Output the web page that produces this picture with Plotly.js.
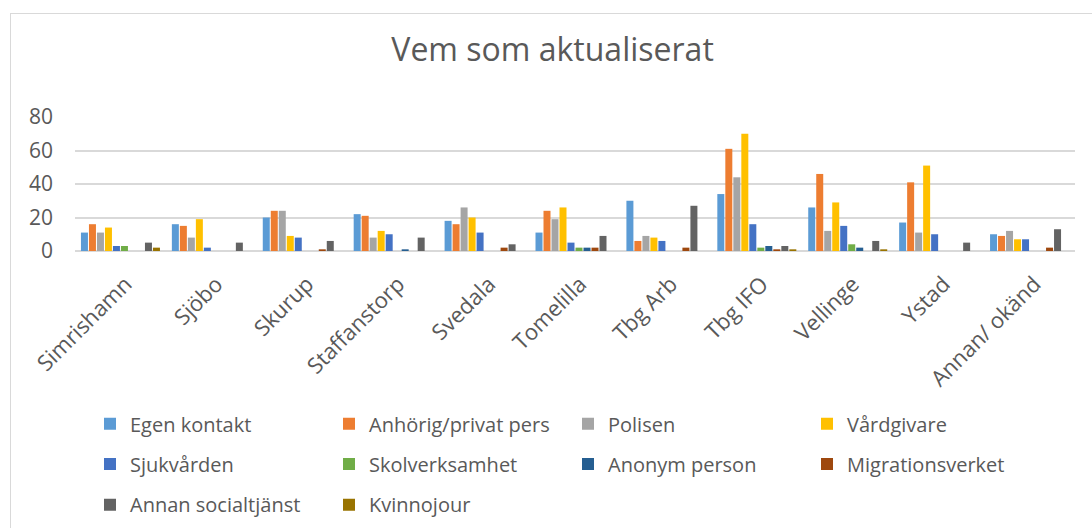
<!DOCTYPE html>
<html>
<head>
<meta charset="utf-8">
<script src="https://cdn.plot.ly/plotly-3.0.1.min.js"></script>
<style>
  html, body { margin: 0; padding: 0; background: #fff; overflow: hidden; }
  #chart { width: 1092px; height: 528px; position: absolute; left: 0; top: 0; }
  #frame { position: absolute; left: 10px; top: 13px; width: 1200px; height: 700px;
           border: 1.5px solid #d9d9d9; pointer-events: none; }
</style>
</head>
<body>
<div id="chart"></div>
<div id="frame"></div>
<script>
const categories = ["Simrishamn", "Sjöbo", "Skurup", "Staffanstorp", "Svedala", "Tomelilla",
                    "Tbg Arb", "Tbg IFO", "Vellinge", "Ystad", "Annan/ okänd"];

const egenKontakt       = [11, 16, 20, 22, 18, 11, 30, 34, 26, 17, 10];
const anhorigPrivatPers = [16, 15, 24, 21, 16, 24, 6, 61, 46, 41, 9];
const polisen           = [11, 8, 24, 8, 26, 19, 9, 44, 12, 11, 12];
const vardgivare        = [14, 19, 9, 12, 20, 26, 8, 70, 29, 51, 7];
const sjukvarden        = [3, 2, 8, 10, 11, 5, 6, 16, 15, 10, 7];
const skolverksamhet    = [3, 0, 0, 0, 0, 2, 0, 2, 4, 0, 0];
const anonymPerson      = [0, 0, 0, 1, 0, 2, 0, 3, 2, 0, 0];
const migrationsverket  = [0, 0, 1, 0, 2, 2, 2, 1, 0, 0, 2];
const annanSocialtjanst = [5, 5, 6, 8, 4, 9, 27, 3, 6, 5, 13];
const kvinnojour        = [2, 0, 0, 0, 0, 0, 0, 1, 1, 0, 0];

const seriesNames = ["Egen kontakt", "Anhörig/privat pers", "Polisen", "Vårdgivare",
                     "Sjukvården", "Skolverksamhet", "Anonym person", "Migrationsverket",
                     "Annan socialtjänst", "Kvinnojour"];
const seriesValues = [egenKontakt, anhorigPrivatPers, polisen, vardgivare, sjukvarden,
                      skolverksamhet, anonymPerson, migrationsverket, annanSocialtjanst, kvinnojour];
const seriesColors = ["#5B9BD5", "#ED7D31", "#A5A5A5", "#FFC000", "#4472C4",
                      "#70AD47", "#255E91", "#9E480E", "#636363", "#997300"];
const legendIds = ["legend", "legend", "legend", "legend", "legend2", "legend2",
                   "legend2", "legend2", "legend3", "legend3"];

const yTicks = [0, 20, 40, 60, 80];

const traces = seriesNames.map((name, i) => ({
  type: "bar",
  name: name,
  x: categories,
  y: seriesValues[i],
  marker: { color: seriesColors[i] },
  legend: legendIds[i],
  hoverinfo: "x+y+name"
}));

const textColor = "#595959";
const fontFam = "'Open Sans', 'DejaVu Sans', sans-serif";

function legendAt(y) {
  return {
    orientation: "h",
    x: 0.015, xanchor: "left",
    y: y, yanchor: "middle",
    entrywidth: 194, entrywidthmode: "pixels",
    font: { family: fontFam, size: 20, color: textColor },
    bgcolor: "rgba(0,0,0,0)",
    traceorder: "normal"
  };
}

const layout = {
  width: 1092, height: 528,
  margin: { l: 75, r: 17, t: 117, b: 277, autoexpand: false },
  paper_bgcolor: "rgba(0,0,0,0)",
  plot_bgcolor: "#fff",
  title: {
    text: "Vem som aktualiserat",
    font: { family: fontFam, size: 32, color: textColor },
    x: 0.506, xanchor: "center",
    y: 0.905, yanchor: "middle"
  },
  barmode: "group",
  bargap: 0.12,
  bargroupgap: 0.125,
  xaxis: {
    type: "category",
    tickangle: -45,
    tickfont: { family: fontFam, size: 22, color: textColor },
    showgrid: false,
    showline: false,
    ticks: "",
    ticklabelstandoff: 15,
    ticklabelshift: 5,
    automargin: false
  },
  yaxis: {
    range: [0, 80],
    tickvals: yTicks,
    tickfont: { family: fontFam, size: 21, color: textColor },
    gridcolor: "#d9d9d9",
    gridwidth: 2,
    zeroline: true,
    zerolinecolor: "#d9d9d9",
    zerolinewidth: 2,
    showline: false,
    ticks: "",
    ticklabelstandoff: 21,
    automargin: false
  },
  showlegend: true,
  legend: legendAt(-1.29),
  legend2: legendAt(-1.59),
  legend3: legendAt(-1.893)
};

Plotly.newPlot("chart", traces, layout, { displayModeBar: false, staticPlot: true });
</script>
</body>
</html>
